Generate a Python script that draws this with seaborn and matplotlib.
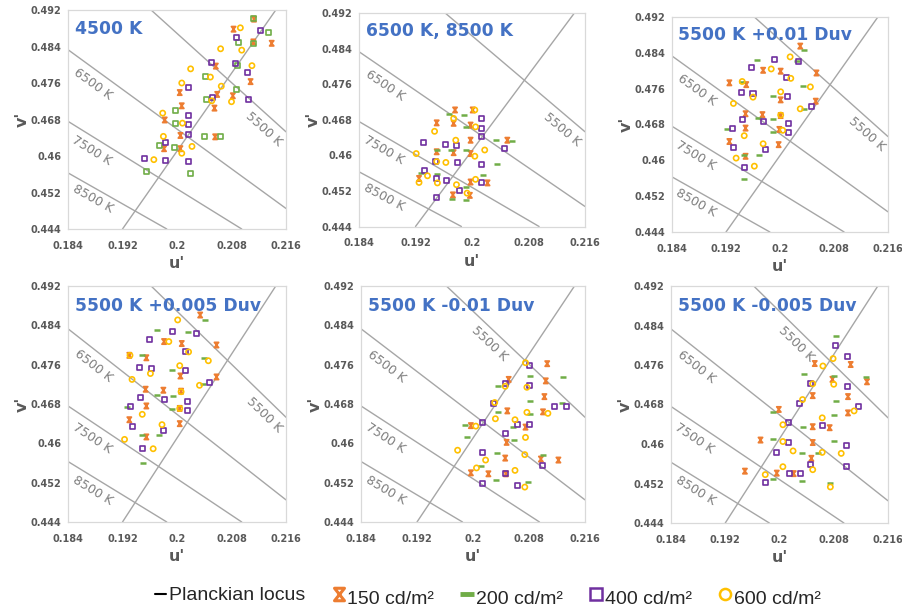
import matplotlib
matplotlib.use("Agg")
import math
import pandas as pd
import matplotlib.pyplot as plt
from matplotlib.path import Path
from matplotlib.lines import Line2D
import seaborn as sns

# ---------------------------------------------------------------- axes setup
U_TICKS = [0.184, 0.192, 0.200, 0.208, 0.216]
U_TICK_LABELS = ["0.184", "0.192", "0.2", "0.208", "0.216"]
V_TICKS = [0.444, 0.452, 0.460, 0.468, 0.476, 0.484, 0.492]
V_TICK_LABELS = ["0.444", "0.452", "0.46", "0.468", "0.476", "0.484", "0.492"]

PANEL_TITLES = ["4500 K", "6500 K, 8500 K", "5500 K +0.01 Duv",
                "5500 K +0.005 Duv", "5500 K -0.01 Duv", "5500 K -0.005 Duv"]
LUMINANCES = ["150 cd/m²", "200 cd/m²", "400 cd/m²", "600 cd/m²"]

# ------------------------------------------- Planckian locus and isotherms
LOCUS_U = [0.1920, 0.2145]
LOCUS_V = [0.444, 0.492]
ISOTHERM_NAMES = ["5500 K", "6500 K", "7500 K", "8500 K"]
ISO_U = [[0.1962, 0.2160], [0.1840, 0.2160], [0.1840, 0.2095], [0.1840, 0.1985]]
ISO_V = [[0.4920, 0.4653], [0.4833, 0.4485], [0.4676, 0.4440], [0.4563, 0.4440]]

# ------------------------------------------------ measured chromaticities
# panel 1 : 4500 K
p1_150 = [(0.2083, 0.4878), (0.2113, 0.4900), (0.2139, 0.4847), (0.2112, 0.4850),
          (0.2057, 0.4797), (0.2108, 0.4763), (0.2059, 0.4735), (0.2082, 0.4732),
          (0.2055, 0.4705), (0.2007, 0.4710), (0.2004, 0.4739), (0.1982, 0.4679),
          (0.2005, 0.4645), (0.2056, 0.4642), (0.1981, 0.4616), (0.2005, 0.4616)]
p1_200 = [(0.2113, 0.4902), (0.2135, 0.4871), (0.2090, 0.4849), (0.2112, 0.4847),
          (0.2089, 0.4798), (0.2042, 0.4775), (0.2043, 0.4724), (0.2088, 0.4745),
          (0.1998, 0.4700), (0.1998, 0.4672), (0.2041, 0.4643), (0.2064, 0.4642),
          (0.1975, 0.4622), (0.1997, 0.4619), (0.1955, 0.4567), (0.2020, 0.4562)]
p1_400 = [(0.2123, 0.4876), (0.2087, 0.4859), (0.2051, 0.4806), (0.2086, 0.4803),
          (0.2103, 0.4783), (0.2017, 0.4751), (0.2052, 0.4728), (0.2105, 0.4724),
          (0.2017, 0.4689), (0.2017, 0.4669), (0.2017, 0.4648), (0.1983, 0.4630),
          (0.1952, 0.4594), (0.1983, 0.4591), (0.2017, 0.4589)]
p1_600 = [(0.2093, 0.4881), (0.2064, 0.4835), (0.2095, 0.4832), (0.2110, 0.4798),
          (0.2020, 0.4791), (0.2049, 0.4773), (0.2007, 0.4760), (0.2065, 0.4753),
          (0.2051, 0.4721), (0.2080, 0.4719), (0.1979, 0.4694), (0.2008, 0.4672),
          (0.1980, 0.4643), (0.2022, 0.4621), (0.2007, 0.4606), (0.1966, 0.4592)]

# panel 2 : 6500 K, 8500 K
p2_150 = [(0.1976, 0.4702), (0.2001, 0.4702), (0.1950, 0.4673), (0.1974, 0.4672),
          (0.1998, 0.4668), (0.1998, 0.4634), (0.2050, 0.4634), (0.1950, 0.4608),
          (0.1974, 0.4606), (0.1998, 0.4604), (0.1925, 0.4548), (0.1998, 0.4540),
          (0.2022, 0.4538), (0.1973, 0.4511), (0.1997, 0.4510)]
p2_200 = [(0.1967, 0.4694), (0.1989, 0.4691), (0.1991, 0.4664), (0.2034, 0.4634),
          (0.2056, 0.4633), (0.1950, 0.4613), (0.1970, 0.4612), (0.1992, 0.4612),
          (0.2036, 0.4581), (0.1928, 0.4560), (0.1950, 0.4557), (0.2015, 0.4555),
          (0.1992, 0.4529), (0.1972, 0.4502), (0.1992, 0.4500)]
p2_400 = [(0.2013, 0.4682), (0.2013, 0.4660), (0.2014, 0.4642), (0.1931, 0.4629),
          (0.1963, 0.4625), (0.1978, 0.4623), (0.2046, 0.4615), (0.1949, 0.4587),
          (0.1980, 0.4583), (0.2014, 0.4580), (0.1933, 0.4566), (0.1950, 0.4548),
          (0.1964, 0.4544), (0.2014, 0.4539), (0.1982, 0.4521), (0.1950, 0.4506)]
p2_600 = [(0.2004, 0.4702), (0.1974, 0.4683), (0.1947, 0.4654), (0.1977, 0.4634),
          (0.2005, 0.4664), (0.2018, 0.4612), (0.1921, 0.4604), (0.2004, 0.4598),
          (0.1963, 0.4584), (0.1950, 0.4586), (0.1937, 0.4554), (0.1925, 0.4539),
          (0.1951, 0.4538), (0.1978, 0.4534), (0.2005, 0.4546), (0.1993, 0.4515)]

# panel 3 : 5500 K +0.01 Duv
p3_150 = [(0.2030, 0.4855), (0.2054, 0.4795), (0.1975, 0.4801), (0.2001, 0.4799),
          (0.1925, 0.4773), (0.1950, 0.4769), (0.2001, 0.4735), (0.2053, 0.4732),
          (0.1949, 0.4704), (0.1974, 0.4702), (0.2001, 0.4700), (0.1999, 0.4669),
          (0.1949, 0.4672), (0.1925, 0.4642), (0.1998, 0.4635), (0.1949, 0.4609)]
p3_200 = [(0.2036, 0.4847), (0.1966, 0.4825), (0.2025, 0.4821), (0.2034, 0.4767),
          (0.1989, 0.4744), (0.2036, 0.4715), (0.1967, 0.4695), (0.1990, 0.4692),
          (0.1922, 0.4671), (0.1989, 0.4663), (0.1969, 0.4613), (0.1947, 0.4613),
          (0.1947, 0.4558), (0.1943, 0.4776)]
p3_400 = [(0.1992, 0.4825), (0.2027, 0.4820), (0.1958, 0.4808), (0.2010, 0.4784),
          (0.1943, 0.4752), (0.1960, 0.4749), (0.2011, 0.4743), (0.2046, 0.4721),
          (0.1944, 0.4691), (0.1976, 0.4686), (0.2012, 0.4683), (0.1930, 0.4672),
          (0.2012, 0.4662), (0.1931, 0.4629), (0.1978, 0.4624), (0.1947, 0.4585)]
p3_600 = [(0.2015, 0.4831), (0.1987, 0.4804), (0.1944, 0.4776), (0.2016, 0.4783),
          (0.2045, 0.4764), (0.2001, 0.4753), (0.1960, 0.4741), (0.1931, 0.4727),
          (0.2030, 0.4715), (0.2001, 0.4701), (0.2004, 0.4667), (0.1947, 0.4655),
          (0.1975, 0.4637), (0.1935, 0.4605), (0.1962, 0.4587)]

# panel 4 : 5500 K +0.005 Duv
p4_150 = [(0.2034, 0.4861), (0.2058, 0.4800), (0.1981, 0.4807), (0.2007, 0.4803),
          (0.1930, 0.4779), (0.1955, 0.4774), (0.2005, 0.4737), (0.2058, 0.4735),
          (0.1954, 0.4710), (0.1980, 0.4708), (0.2006, 0.4706), (0.2004, 0.4671),
          (0.1955, 0.4676), (0.1930, 0.4648), (0.2004, 0.4640), (0.1955, 0.4613)]
p4_200 = [(0.2041, 0.4851), (0.1970, 0.4830), (0.2016, 0.4826), (0.2039, 0.4773),
          (0.1993, 0.4750), (0.2038, 0.4720), (0.1971, 0.4698), (0.1994, 0.4696),
          (0.1927, 0.4674), (0.1993, 0.4669), (0.1973, 0.4617), (0.1949, 0.4617),
          (0.1950, 0.4561), (0.1948, 0.4779)]
p4_400 = [(0.1994, 0.4828), (0.2029, 0.4824), (0.1960, 0.4811), (0.2012, 0.4786),
          (0.1945, 0.4754), (0.1963, 0.4752), (0.2013, 0.4748), (0.2047, 0.4724),
          (0.1947, 0.4693), (0.1981, 0.4690), (0.2015, 0.4686), (0.1932, 0.4674),
          (0.2015, 0.4666), (0.1934, 0.4634), (0.1980, 0.4627), (0.1949, 0.4589)]
p4_600 = [(0.2001, 0.4851), (0.1988, 0.4807), (0.1931, 0.4779), (0.2017, 0.4786),
          (0.2046, 0.4768), (0.2004, 0.4758), (0.1961, 0.4742), (0.1934, 0.4730),
          (0.2033, 0.4718), (0.2006, 0.4705), (0.2004, 0.4671), (0.1949, 0.4659),
          (0.1978, 0.4638), (0.1923, 0.4608), (0.1965, 0.4589)]

# panel 5 : 5500 K -0.01 Duv
p5_150 = [(0.2106, 0.4762), (0.2051, 0.4730), (0.2104, 0.4727), (0.2102, 0.4695),
          (0.2049, 0.4666), (0.2100, 0.4664), (0.2075, 0.4633), (0.1997, 0.4636),
          (0.2048, 0.4602), (0.2046, 0.4570), (0.2097, 0.4568), (0.2122, 0.4566),
          (0.1997, 0.4540), (0.2022, 0.4538), (0.2047, 0.4538)]
p5_200 = [(0.2081, 0.4737), (0.2036, 0.4716), (0.2128, 0.4734), (0.2081, 0.4686),
          (0.2036, 0.4663), (0.2081, 0.4659), (0.1989, 0.4638), (0.2057, 0.4633),
          (0.1991, 0.4612), (0.2058, 0.4606), (0.2034, 0.4581), (0.2100, 0.4576),
          (0.2012, 0.4554), (0.2033, 0.4525), (0.2078, 0.4522), (0.2127, 0.4682)]
p5_400 = [(0.2081, 0.4759), (0.2046, 0.4722), (0.2081, 0.4718), (0.2029, 0.4682),
          (0.2116, 0.4674), (0.2134, 0.4674), (0.2013, 0.4643), (0.2063, 0.4638),
          (0.2081, 0.4638), (0.2047, 0.4620), (0.2013, 0.4581), (0.2099, 0.4554),
          (0.2047, 0.4538), (0.2013, 0.4519), (0.2064, 0.4515)]
p5_600 = [(0.2075, 0.4764), (0.2046, 0.4716), (0.2077, 0.4714), (0.2031, 0.4683),
          (0.2077, 0.4663), (0.2107, 0.4661), (0.2032, 0.4650), (0.2060, 0.4648),
          (0.2004, 0.4635), (0.2075, 0.4612), (0.1978, 0.4586), (0.2074, 0.4577),
          (0.2018, 0.4566), (0.2005, 0.4550), (0.2060, 0.4545), (0.2074, 0.4511)]

# panel 6 : 5500 K -0.005 Duv
p6_150 = [(0.2052, 0.4763), (0.2105, 0.4761), (0.2078, 0.4731), (0.2129, 0.4726),
          (0.2049, 0.4698), (0.2101, 0.4696), (0.1999, 0.4670), (0.2101, 0.4663),
          (0.2049, 0.4635), (0.2074, 0.4633), (0.1972, 0.4608), (0.2049, 0.4603),
          (0.2047, 0.4571), (0.1996, 0.4541), (0.2021, 0.4540), (0.1949, 0.4545)]
p6_200 = [(0.2083, 0.4819), (0.2036, 0.4742), (0.2080, 0.4738), (0.2128, 0.4735),
          (0.2083, 0.4687), (0.2080, 0.4659), (0.1990, 0.4665), (0.2034, 0.4635),
          (0.1990, 0.4611), (0.2080, 0.4606), (0.2033, 0.4581), (0.2057, 0.4581),
          (0.1990, 0.4529), (0.2033, 0.4525), (0.2075, 0.4522)]
p6_400 = [(0.2082, 0.4800), (0.2100, 0.4778), (0.2045, 0.4723), (0.2100, 0.4717),
          (0.2029, 0.4683), (0.2116, 0.4676), (0.2013, 0.4643), (0.2063, 0.4638),
          (0.2013, 0.4603), (0.2099, 0.4596), (0.1996, 0.4583), (0.2046, 0.4558),
          (0.2099, 0.4555), (0.2015, 0.4540), (0.2031, 0.4540), (0.1979, 0.4523)]
p6_600 = [(0.2079, 0.4773), (0.2064, 0.4758), (0.2049, 0.4722), (0.2080, 0.4721),
          (0.2034, 0.4690), (0.2110, 0.4667), (0.2063, 0.4653), (0.2005, 0.4639),
          (0.2005, 0.4605), (0.2020, 0.4586), (0.2063, 0.4583), (0.2091, 0.4581),
          (0.2005, 0.4554), (0.2049, 0.4548), (0.1979, 0.4538), (0.2075, 0.4513)]

PANEL_DATA = [
    [p1_150, p1_200, p1_400, p1_600],
    [p2_150, p2_200, p2_400, p2_600],
    [p3_150, p3_200, p3_400, p3_600],
    [p4_150, p4_200, p4_400, p4_600],
    [p5_150, p5_200, p5_400, p5_600],
    [p6_150, p6_200, p6_400, p6_600],
]

# ------------------------------------------------------------------ styling
sns.set_style("white")
plt.rcParams["font.family"] = ["DejaVu Sans"]

ORANGE, GREEN, PURPLE, GOLD = "#ED7D31", "#70AD47", "#7030A0", "#FFC000"
LINE_GRAY = "#A6A6A6"
TEXT_GRAY = "#595959"
TITLE_BLUE = "#4472C4"

# hourglass-shaped cross used for the 150 cd/m² series
HOURGLASS = Path([(-0.8, 1.0), (0.8, 1.0), (-0.8, -1.0), (0.8, -1.0), (-0.8, 1.0)],
                 [Path.MOVETO, Path.LINETO, Path.LINETO, Path.LINETO, Path.CLOSEPOLY])

# marker, size, colour, line width, filled-outline flag
SERIES_STYLE = [
    dict(marker=HOURGLASS, s=14, color=ORANGE, lw=1.3, outline=True),
    dict(marker="_", s=22, color=GREEN, lw=1.8, outline=False),
    dict(marker="s", s=13, color=PURPLE, lw=1.2, outline=True),
    dict(marker="o", s=14, color=GOLD, lw=1.2, outline=True),
]

# axes rectangles in figure pixels: left, top, right, bottom
W, H = 903, 616
PANEL_BOXES = [
    (68, 10, 286, 229), (359, 13, 585, 226.5), (672, 17, 888, 232),
    (68, 286, 286, 522), (361, 286, 585, 522), (671, 286, 888, 523),
]

# isotherm label centres (u', v'); the 5500 K label sits higher in the -Duv panels
LABEL_POS_UPPER = [(0.2128, 0.4658), (0.1877, 0.4757), (0.1875, 0.4611), (0.1876, 0.4505)]
LABEL_POS_LOWER = [(0.2024, 0.4803), (0.1877, 0.4757), (0.1875, 0.4611), (0.1876, 0.4505)]

fig = plt.figure(figsize=(W / 100, H / 100), dpi=100)

for idx, (box, title, series) in enumerate(zip(PANEL_BOXES, PANEL_TITLES, PANEL_DATA)):
    l, t, r, b = box
    ax = fig.add_axes([l / W, (H - b) / H, (r - l) / W, (b - t) / H])
    ax.set_xlim(U_TICKS[0], U_TICKS[-1])
    ax.set_ylim(V_TICKS[0], V_TICKS[-1])

    # Planckian locus and iso-CCT lines
    ax.plot(LOCUS_U, LOCUS_V, color=LINE_GRAY, lw=1.0, zorder=1)
    for iu, iv in zip(ISO_U, ISO_V):
        ax.plot(iu, iv, color=LINE_GRAY, lw=1.0, zorder=1)

    label_pos = LABEL_POS_LOWER if idx in (4, 5) else LABEL_POS_UPPER
    for name, iu, iv, (lu, lv) in zip(ISOTHERM_NAMES, ISO_U, ISO_V, label_pos):
        p0 = ax.transData.transform((iu[0], iv[0]))
        p1 = ax.transData.transform((iu[1], iv[1]))
        ang = math.degrees(math.atan2(p1[1] - p0[1], p1[0] - p0[0]))
        ax.text(lu, lv, name, rotation=ang, rotation_mode="anchor",
                ha="center", va="center", fontsize=9, color="#7F7F7F", zorder=2)

    # measurement points
    for k, (lum, pts) in enumerate(zip(LUMINANCES, series)):
        st = dict(SERIES_STYLE[k])
        if idx == 0 and k == 1:
            st = dict(marker="s", s=13, color=GREEN, lw=1.2, outline=True)
        df = pd.DataFrame(pts, columns=["u", "v"])
        kws = dict(marker=st["marker"], s=st["s"], color=st["color"],
                   linewidth=st["lw"], zorder=3 + k, legend=False)
        if st["outline"]:
            kws.update(facecolor="none", edgecolor=st["color"])
        sns.scatterplot(data=df, x="u", y="v", ax=ax, **kws)

    ax.text(0.03, 0.915, title, transform=ax.transAxes, ha="left", va="center",
            fontsize=12.3, fontweight="bold", color=TITLE_BLUE, zorder=6)

    ax.set_xticks(U_TICKS)
    ax.set_xticklabels(U_TICK_LABELS, fontsize=7, fontweight="bold", color=TEXT_GRAY)
    ax.set_yticks(V_TICKS)
    ax.set_yticklabels(V_TICK_LABELS, fontsize=7, fontweight="bold", color=TEXT_GRAY)
    ax.tick_params(axis="x", length=0, pad=8.5)
    ax.tick_params(axis="y", length=0, pad=5)
    ax.set_xlabel("u'", fontsize=11.5, fontweight="bold", color=TEXT_GRAY, labelpad=4)
    ax.set_ylabel("v'", fontsize=11.5, fontweight="bold", color=TEXT_GRAY, labelpad=0)
    for sp in ax.spines.values():
        sp.set_color("#D9D9D9")
        sp.set_linewidth(0.9)

handles = [
    Line2D([], [], color="black", lw=1.5),
    Line2D([], [], marker=HOURGLASS, ls="none", color=ORANGE, mfc="none", ms=9, mew=2.2),
    Line2D([], [], marker="_", ls="none", color=GREEN, ms=10, mew=3.5),
    Line2D([], [], marker="s", ls="none", color=PURPLE, mfc="none", ms=8, mew=1.8),
    Line2D([], [], marker="o", ls="none", color=GOLD, mfc="none", ms=8, mew=1.8),
]
labels = ["Planckian locus"] + LUMINANCES
leg = fig.legend(handles, labels, loc="center", bbox_to_anchor=(0.54, 0.033), ncol=5,
                 frameon=False, handlelength=0.6, handletextpad=0.15,
                 columnspacing=1.4, prop={"family": "Liberation Sans", "size": 14})
# luminance labels sit a little below their markers
for txt in leg.get_texts()[1:]:
    txt.set_position((0, -4))

fig.savefig("out.png", dpi=100)
